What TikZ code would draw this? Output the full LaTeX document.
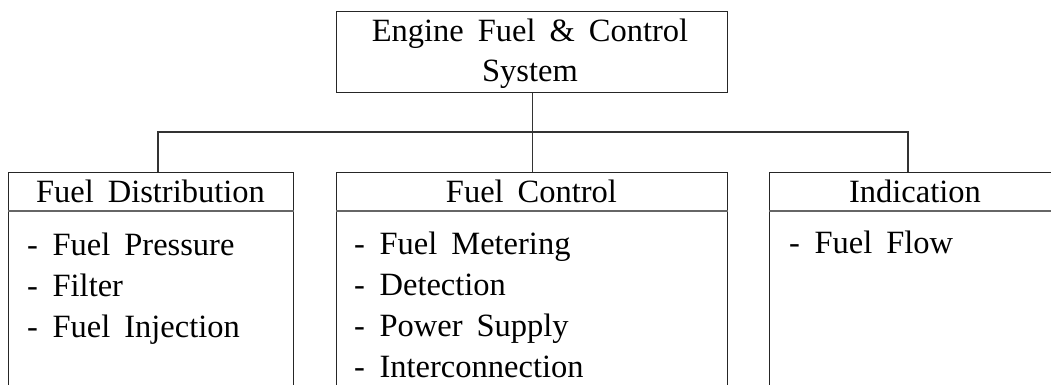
\documentclass[tikz,border=0pt]{standalone}
\usepackage{fontspec}
\setmainfont{Liberation Serif}
\newcommand\myfontA{\fontsize{32.5}{40}\selectfont\spaceskip=0.43em plus 0.1em\relax}
\begin{document}
\begin{tikzpicture}[x=1pt,y=-1pt,
  frame/.style={draw=black!85, line width=1.2pt, inner sep=0pt, anchor=north west},
  conn/.style={draw=black!80, line width=1.1pt},
  divider/.style={draw=black!60, line width=1.6pt},
  lbl/.style={inner sep=0pt, font=\myfontA},
  ttl/.style={lbl, anchor=base},
  item/.style={lbl, anchor=base west}]
\useasboundingbox (0,0) rectangle (1051,385);
\clip (0,0) rectangle (1051,385);
% top box
\node[frame, minimum width=391pt, minimum height=81pt] (top) at (336,11) {};
\node[ttl] (t1) at (530,42) {Engine Fuel \& Control};
\node[ttl] (t2) at (530,82) {System};
% child boxes (open at the bottom)
\node[frame, minimum width=285pt, minimum height=260pt] (dist) at (8,172) {};
\node[frame, minimum width=391pt, minimum height=260pt] (ctrl) at (336,172) {};
\node[frame, minimum width=292pt, minimum height=260pt] (ind) at (769,172) {};
% header dividers
\draw[divider] ([yshift=-39pt]dist.north west) -- ([yshift=-39pt]dist.north east);
\draw[divider] ([yshift=-39pt]ctrl.north west) -- ([yshift=-39pt]ctrl.north east);
\draw[divider] ([yshift=-39pt]ind.north west) -- ([yshift=-39pt]ind.north east);
% headers
\node[ttl] (h1) at (150.5,202) {Fuel Distribution};
\node[ttl] (h2) at (531.5,202) {Fuel Control};
\node[ttl] (h3) at (915,202) {Indication};
% items
\node[item] (a1) at (27,255) {-\hspace{0.45em}Fuel Pressure};
\node[item] (a2) at (27,296) {-\hspace{0.45em}Filter};
\node[item] (a3) at (27,337) {-\hspace{0.45em}Fuel Injection};
\node[item] (b1) at (354,254) {-\hspace{0.45em}Fuel Metering};
\node[item] (b2) at (354,295) {-\hspace{0.45em}Detection};
\node[item] (b3) at (354,336) {-\hspace{0.45em}Power Supply};
\node[item] (b4) at (354,377) {-\hspace{0.45em}Interconnection};
\node[item] (c1) at (789,253) {-\hspace{0.45em}Fuel Flow};
% connectors
\coordinate (bus) at (527,132);
\coordinate (in1) at (158,172);
\coordinate (in3) at (908,172);
\draw[conn] (top.south) -- (top.south |- ctrl.north);
\draw[conn] (in1) |- (bus) -| (in3);
\end{tikzpicture}
\end{document}
